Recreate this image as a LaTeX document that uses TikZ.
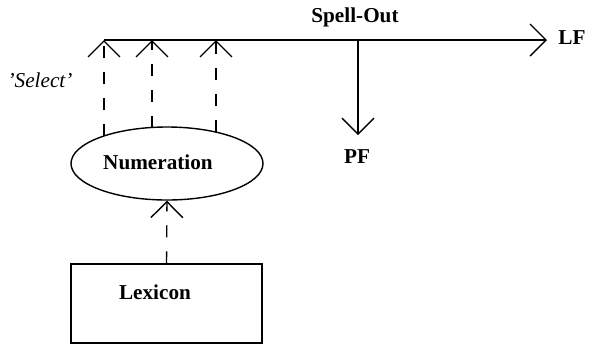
\documentclass[tikz,border=0pt]{standalone}
\usepackage{fontspec}
\setmainfont{Liberation Serif}
\usetikzlibrary{arrows.meta,shapes.geometric}

\begin{document}
\begin{tikzpicture}[x=0.5pt,y=-0.5pt,line width=0.7pt,
    barb/.style={-{Straight Barb[length=8pt,width=16pt]}},
    select/.style={barb,dash pattern=on 6pt off 7pt},
    lbl/.style={font=\fontsize{10.6}{12}\selectfont\bfseries,inner sep=0pt}]
    \useasboundingbox (0,0) rectangle (590,345);

    % Numeration and Lexicon
    \node[draw,ellipse,minimum width=96pt,minimum height=36.5pt,inner sep=0pt] (num) at (167,163.5) {};
    \node[lbl] (numtext) at (158,162) {Numeration};
    \node[draw,minimum width=95.5pt,minimum height=39.5pt,inner sep=0pt] (lex) at (166.5,303.5) {};
    \node[lbl] (lextext) at (155,292) {Lexicon};

    % Points on the main line
    \coordinate (start) at (104,40);
    \coordinate (lfend) at (547,40);
    \coordinate (spell) at (358,40);
    \coordinate (pfend) at (358,135);

    % Where the selections leave the numeration
    \coordinate (s1) at (104,136);
    \coordinate (s2) at (152,127.5);
    \coordinate (s3) at (216,132);

    % Draw arrows
    \draw[barb] (start) -- (lfend);
    \draw[barb] (spell) -- (pfend);
    \foreach \s in {s1,s2,s3}
        \draw[select] (\s) -- (\s |- start);
    \draw[select] (lex.north) -- (num.south);

    % Labels
    \node[lbl] (spellout) at (355,17) {Spell-Out};
    \node[lbl] (lf) at (572,38) {LF};
    \node[lbl] (pf) at (357,157) {PF};
    \node[inner sep=0pt,font=\fontsize{10.6}{12}\selectfont\itshape] (sel) at (40,80) {'Select'};
\end{tikzpicture}
\end{document}
